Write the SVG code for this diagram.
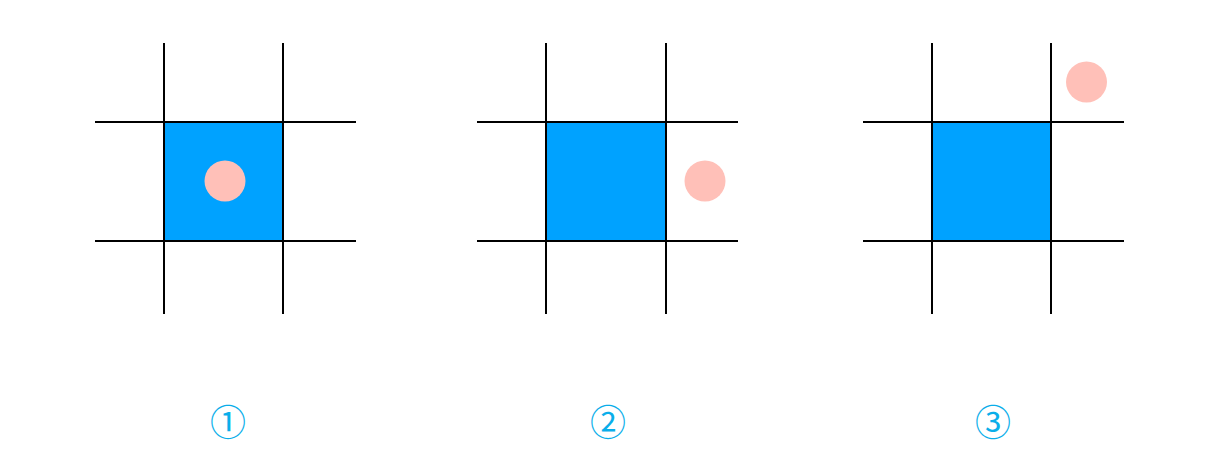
<svg xmlns="http://www.w3.org/2000/svg" width="1215" height="467" viewBox="0 0 1215 467">
<style>
.cell{fill:#00a2ff}
.ln{stroke:#000;stroke-width:2;fill:none}
.dot{fill:#ffc0b8}
.lbl{font-family:"Noto Sans CJK SC","DejaVu Sans",sans-serif;font-size:36px;fill:#0aaeea;text-anchor:middle}
</style>
<rect width="1215" height="467" fill="#fff"/>
<g id="panel1">
<rect class="cell" x="164" y="122" width="119" height="119"/>
<path class="ln" d="M164 43V314M283 43V314M95 122H356M95 241H356"/>
<circle class="dot" cx="225" cy="181" r="20.5"/>
<text class="lbl" x="228" y="436">①</text>
</g>
<g id="panel2">
<rect class="cell" x="546" y="122" width="120" height="119"/>
<path class="ln" d="M546 43V314M666 43V314M477 122H738M477 241H738"/>
<circle class="dot" cx="705" cy="181" r="20.5"/>
<text class="lbl" x="608" y="436">②</text>
</g>
<g id="panel3">
<rect class="cell" x="932" y="122" width="119" height="119"/>
<path class="ln" d="M932 43V314M1051 43V314M863 122H1124M863 241H1124"/>
<circle class="dot" cx="1086.5" cy="82" r="20.5"/>
<text class="lbl" x="993" y="436">③</text>
</g>
<g id="connectors"/>
</svg>
